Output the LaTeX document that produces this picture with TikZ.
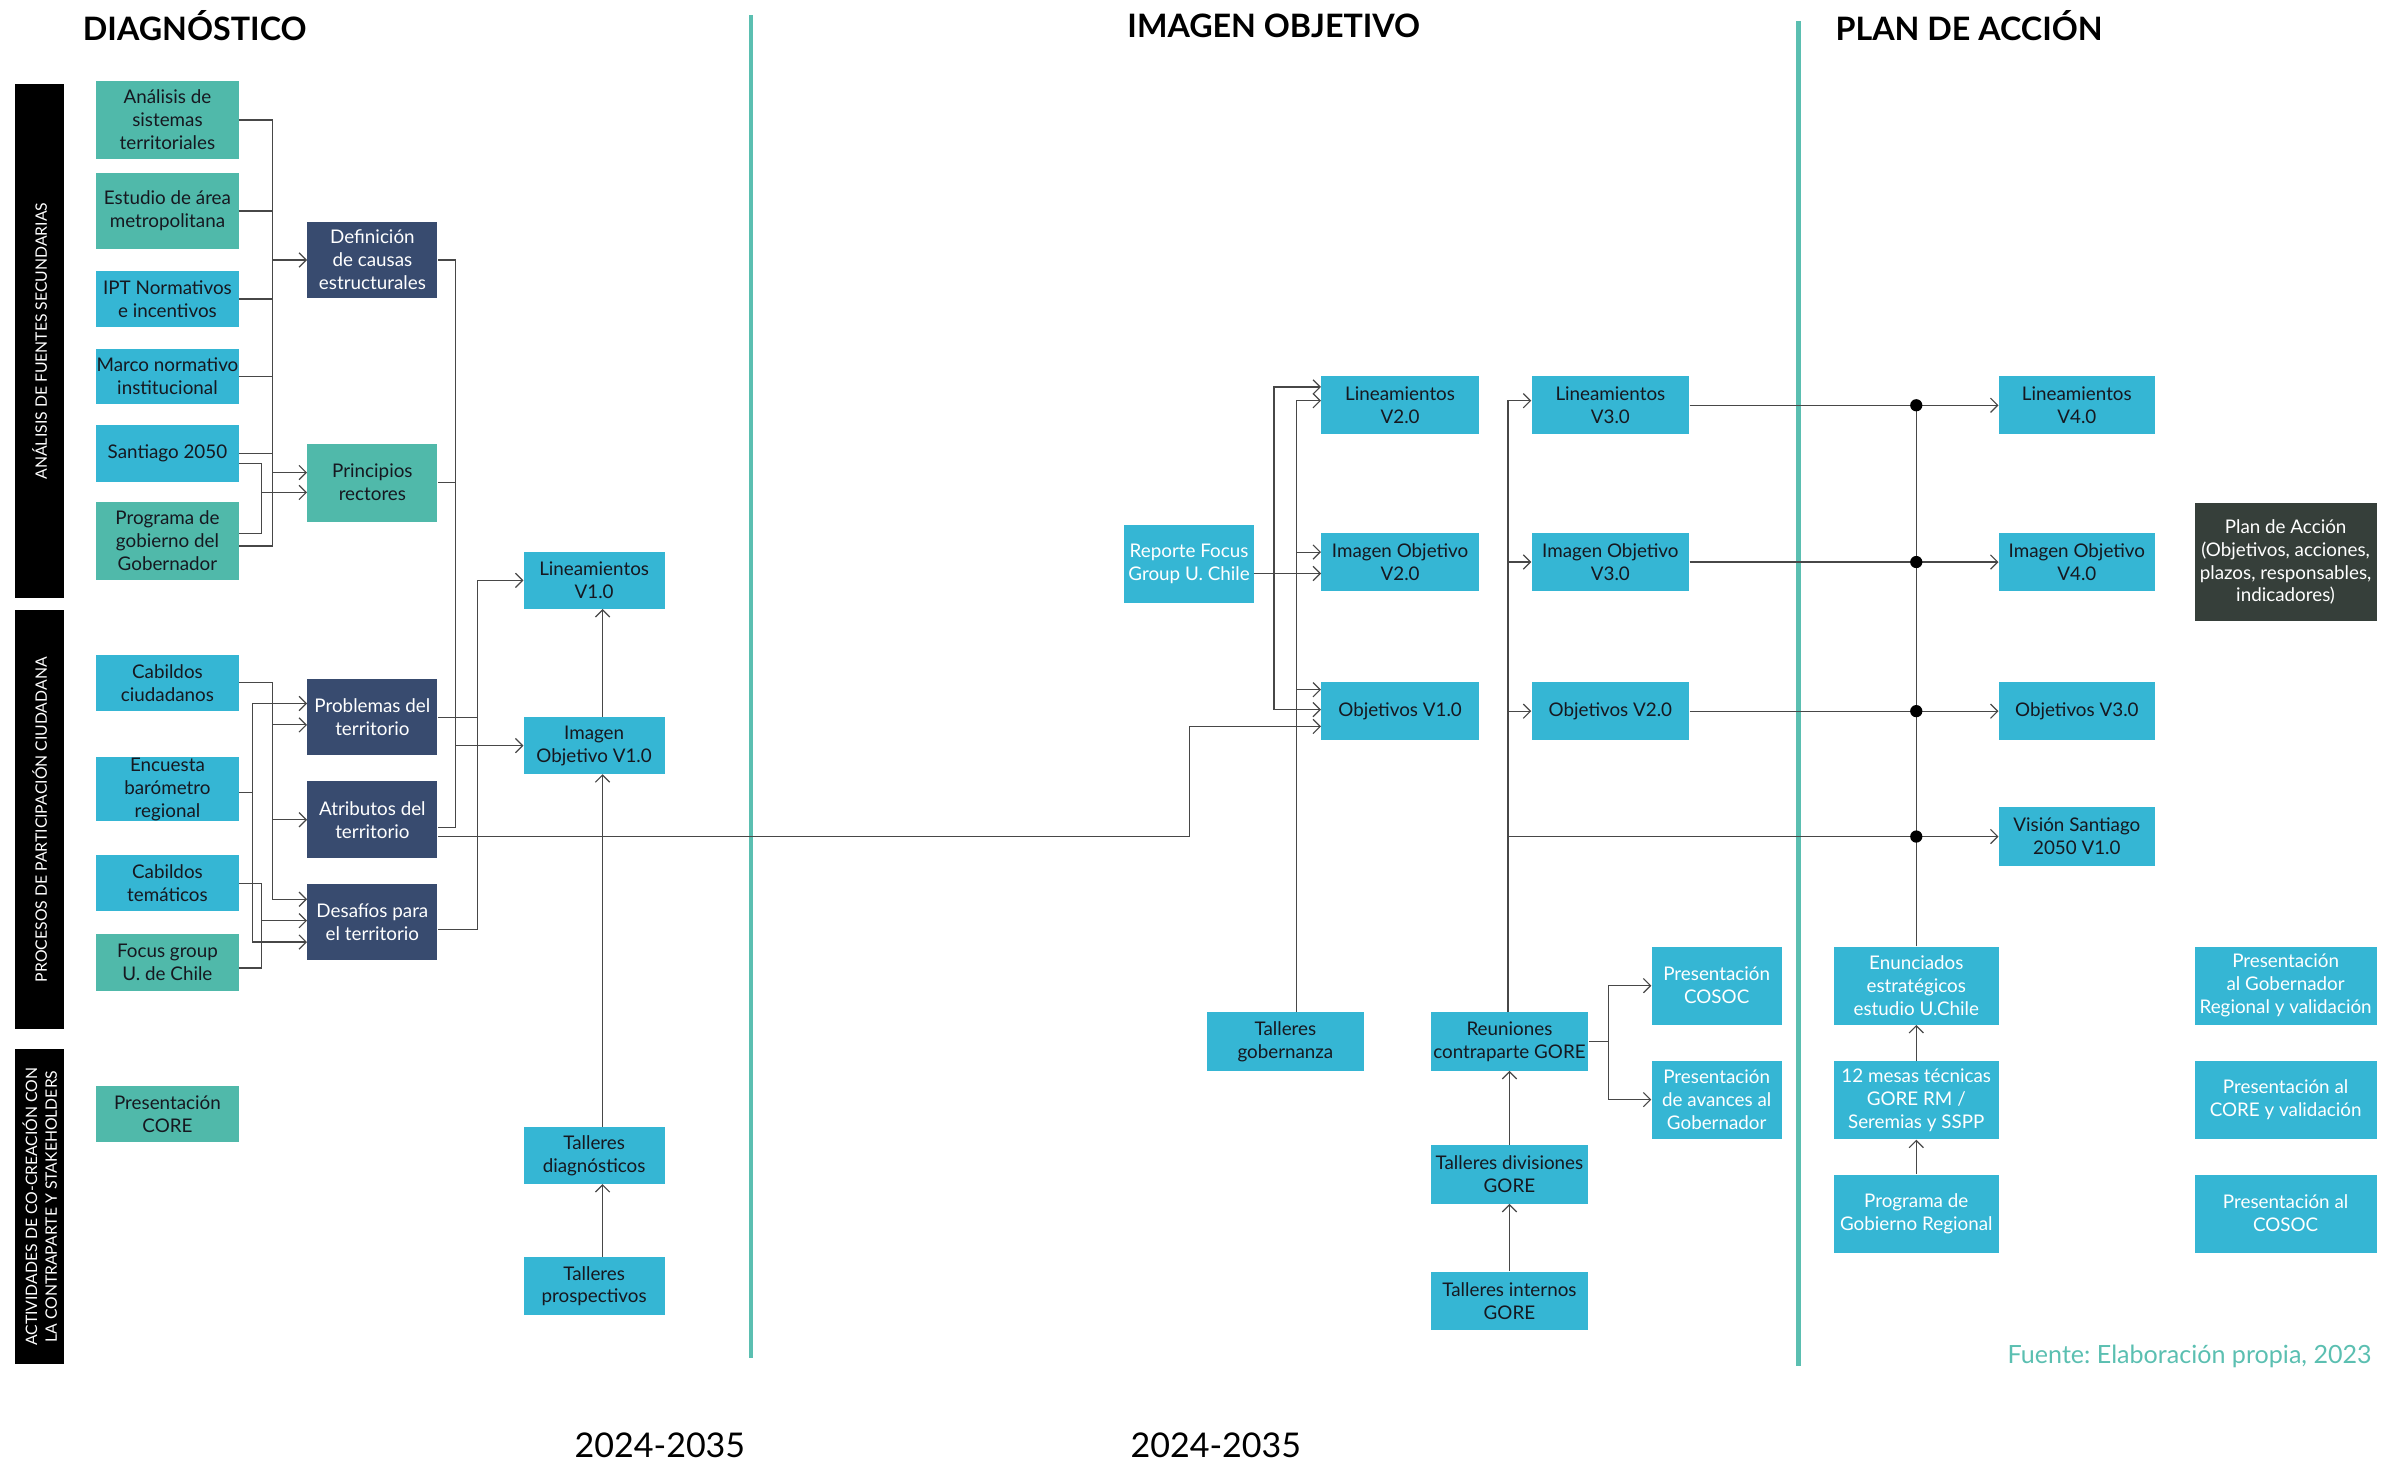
\documentclass[tikz,border=0pt]{standalone}
\usepackage{fontspec}
\setmainfont{Lato}
\usepackage{xcolor}
\definecolor{colorBlue}{RGB}{53,182,212}
\definecolor{colorGreen}{RGB}{80,185,170}
\definecolor{colorNavy}{RGB}{56,75,111}
\definecolor{colorDark}{RGB}{54,63,58}
\definecolor{colorTeal}{RGB}{91,191,177}
\definecolor{colorInk}{RGB}{22,24,32}
\colorlet{colorLine}{black!72}
\usetikzlibrary{arrows.meta}
\tikzset{
  wd/.style={minimum width=#1*0.03cm},
  ht/.style={minimum height=#1*0.03cm},
  box/.style={inner sep=0pt, align=center, text=colorInk},
  bbox/.style={box, fill=colorBlue},
  gbox/.style={box, fill=colorGreen},
  nbox/.style={box, fill=colorNavy, text=white},
  dbox/.style={box, fill=colorDark, text=white},
  wtext/.style={text=white},
  sidebar/.style={fill=black, text=white, inner sep=0pt, align=center, font=\fontsize{8.8}{11}\selectfont},
  head/.style={anchor=west, inner sep=0pt, font=\bfseries\fontsize{18}{21}\selectfont},
  years/.style={inner sep=0pt, font=\fontsize{19}{22}\selectfont},
  divider/.style={draw=colorTeal, line width=2.4pt},
  line/.style={draw=colorLine, line width=0.65pt},
  arr/.style={line, ->},
}

\begin{document}
\begin{tikzpicture}[x=0.03cm, y=-0.03cm, >={Straight Barb[length=4pt,width=8pt]}, font=\fontsize{10.5}{12.8}\selectfont]
\useasboundingbox (0,0) rectangle (1568,956);

% columnas y titulos
\node[head] (hdiag) at (54,17) {DIAGNÓSTICO};
\node[head] (himg) at (737,17) {IMAGEN OBJETIVO};
\node[head] (hplan) at (1200,17) {PLAN DE ACCIÓN};
\draw[divider] (491,10) -- (491,888);
\draw[divider] (1176,14) -- (1176,893);

\node[sidebar, wd=336, ht=32, rotate=90] (sb1) at (26,223) {ANÁLISIS DE FUENTES SECUNDARIAS};
\node[sidebar, wd=274, ht=32, rotate=90] (sb2) at (26,536) {PROCESOS DE PARTICIPACIÓN CIUDADANA};
\node[sidebar, wd=206, ht=32, rotate=90] (sb3) at (26,789) {ACTIVIDADES DE CO-CREACIÓN CON\\LA CONTRAPARTE Y STAKEHOLDERS};

% diagnostico
\node[gbox, wd=93, ht=51] (ana) at (109.5,78.5) {Análisis de\\sistemas\\territoriales};
\node[gbox, wd=93, ht=50] (est) at (109.5,138) {Estudio de área\\metropolitana};
\node[bbox, wd=93, ht=36] (ipt) at (109.5,195.5) {IPT Normativos\\e incentivos};
\node[bbox, wd=93, ht=36] (mar) at (109.5,246) {Marco normativo\\institucional};
\node[bbox, wd=93, ht=37] (stg) at (109.5,296.5) {Santiago 2050};
\node[gbox, wd=93, ht=51] (prg) at (109.5,353.5) {Programa de\\gobierno del\\Gobernador};
\node[bbox, wd=93, ht=37] (cab) at (109.5,446.5) {Cabildos\\ciudadanos};
\node[bbox, wd=93, ht=42] (enc) at (109.5,516) {Encuesta\\barómetro\\regional};
\node[bbox, wd=93, ht=37] (cat) at (109.5,577.5) {Cabildos\\temáticos};
\node[gbox, wd=93, ht=37] (foc) at (109.5,629.5) {Focus group\\U. de Chile};
\node[gbox, wd=93, ht=37] (pco) at (109.5,728.5) {Presentación\\CORE};

\node[nbox, wd=85, ht=50] (def) at (243.5,170) {Definición\\de causas\\estructurales};
\node[gbox, wd=85, ht=51] (pri) at (243.5,315.5) {Principios\\rectores};
\node[nbox, wd=85, ht=50] (pro) at (243.5,469) {Problemas del\\territorio};
\node[nbox, wd=85, ht=50] (atr) at (243.5,536) {Atributos del\\territorio};
\node[nbox, wd=85, ht=50] (des) at (243.5,603) {Desafíos para\\el territorio};

\node[bbox, wd=92, ht=37] (li1) at (388.5,379.5) {Lineamientos\\V1.0};
\node[bbox, wd=92, ht=37] (io1) at (388.5,487.5) {Imagen\\Objetivo V1.0};
\node[bbox, wd=92, ht=37] (tdi) at (388.5,755.5) {Talleres\\diagnósticos};
\node[bbox, wd=92, ht=38] (tpr) at (388.5,841) {Talleres\\prospectivos};

% imagen objetivo
\node[bbox, wtext, wd=85, ht=51] (rep) at (777.5,368.5) {Reporte Focus\\Group U. Chile};
\node[bbox, wd=103, ht=38] (li2) at (915.5,265) {Lineamientos\\V2.0};
\node[bbox, wd=103, ht=38] (io2) at (915.5,367.5) {Imagen Objetivo\\V2.0};
\node[bbox, wd=103, ht=38] (ob1) at (915.5,465) {Objetivos V1.0};
\node[bbox, wd=103, ht=38] (li3) at (1053,265) {Lineamientos\\V3.0};
\node[bbox, wd=103, ht=38] (io3) at (1053,367.5) {Imagen Objetivo\\V3.0};
\node[bbox, wd=103, ht=38] (ob2) at (1053,465) {Objetivos V2.0};
\node[bbox, wd=103, ht=38] (tgo) at (840.5,681) {Talleres\\gobernanza};
\node[bbox, wd=103, ht=38] (reu) at (987,681) {Reuniones\\contraparte GORE};
\node[bbox, wd=103, ht=38] (tdv) at (987,768) {Talleres divisiones\\GORE};
\node[bbox, wd=103, ht=38] (tin) at (987,850.5) {Talleres internos\\GORE};
\node[bbox, wtext, wd=85, ht=51] (pcs) at (1122.5,644.5) {Presentación\\COSOC};
\node[bbox, wtext, wd=85, ht=51] (pav) at (1122.5,719) {Presentación\\de avances al\\Gobernador};

% plan de accion
\node[bbox, wd=102, ht=38] (li4) at (1358,265) {Lineamientos\\V4.0};
\node[bbox, wd=102, ht=38] (io4) at (1358,367.5) {Imagen Objetivo\\V4.0};
\node[bbox, wd=102, ht=38] (ob3) at (1358,465) {Objetivos V3.0};
\node[bbox, wd=102, ht=38] (vis) at (1358,547) {Visión Santiago\\2050 V1.0};
\node[dbox, wd=119, ht=77] (pla) at (1494.5,367.5) {Plan de Acción\\(Objetivos, acciones,\\plazos, responsables,\\indicadores)};
\node[bbox, wtext, wd=108, ht=51] (enu) at (1253,644.5) {Enunciados\\estratégicos\\estudio U.Chile};
\node[bbox, wtext, wd=108, ht=51] (mes) at (1253,719.5) {12 mesas técnicas\\GORE RM /\\Seremias y SSPP};
\node[bbox, wtext, wd=108, ht=51] (pgr) at (1253,793.5) {Programa de\\Gobierno Regional};
\node[bbox, wtext, wd=119, ht=51] (pgo) at (1494.5,644.5) {Presentación\\al Gobernador\\Regional y validación};
\node[bbox, wtext, wd=119, ht=51] (pcr) at (1494.5,719) {Presentación al\\CORE y validación};
\node[bbox, wtext, wd=119, ht=51] (pcc) at (1494.5,793.5) {Presentación al\\COSOC};

\node[years] (yr1) at (431.5,945) {2024-2035};
\node[years] (yr2) at (795,945) {2024-2035};
\node[anchor=east, inner sep=0pt, text=colorTeal, font=\fontsize{14}{16}\selectfont] (src) at (1551,887) {Fuente:\ Elaboración propia, 2023};

% buses
\coordinate (busC) at (165,0);
\coordinate (busB) at (171,0);
\coordinate (busA) at (178,0);
\coordinate (busF) at (298,0);
\coordinate (busE) at (312,0);
\coordinate (busT) at (394,0);
\coordinate (busO) at (778,0);
\coordinate (busR) at (833,0);
\coordinate (busG) at (848,0);
\coordinate (busV) at (986,0);
\coordinate (busP) at (1052,0);
\coordinate (busW) at (1253,0);

% fuentes secundarias
\draw[line] (ana.east) -| (busA |- 0,357) -- (prg.east |- 0,357);
\foreach \n in {est,ipt,mar,stg} \draw[line] (\n.east) -- (busA |- \n.east);
\draw[arr] (busA |- def.west) -- (def.west);
\draw[arr] (busA |- 0,309) -- (pri.west |- 0,309);
\draw[line] (stg.east |- 0,303) -| (busB |- 0,349) -- (prg.east |- 0,349);
\draw[arr] (busB |- 0,322) -- (pri.west |- 0,322);

% participacion
\draw[line] (cab.east) -| (busA |- 0,588);
\draw[arr] (busA |- 0,474) -- (pro.west |- 0,474);
\draw[arr] (busA |- atr.west) -- (atr.west);
\draw[arr] (busA |- 0,588) -- (des.west |- 0,588);
\draw[arr] (enc.east |- 0,518) -| (busC |- 0,460) -- (pro.west |- 0,460);
\draw[arr] (busC |- 0,518) |- (des.west |- 0,616);
\draw[line] (cat.east) -| (busB |- 0,633) -- (foc.east |- 0,633);
\draw[arr] (busB |- 0,602) -- (des.west |- 0,602);

\draw[line] (def.east) -| (busF |- 0,541) -- (atr.east |- 0,541);
\draw[line] (pri.east) -- (busF |- pri.east);
\draw[arr] (busF |- io1.west) -- (io1.west);
\draw[arr] (des.east |- 0,608) -| (busE |- li1.west) -- (li1.west);
\draw[line] (pro.east) -- (busE |- pro.east);
\draw[arr] (busT |- io1.north) -- (busT |- li1.south);
\draw[arr] (busT |- tdi.north) -- (busT |- io1.south);
\draw[arr] (busT |- tpr.north) -- (busT |- tdi.south);
\draw[arr] (atr.east |- 0,547) -| (busO |- 0,475) -- (ob1.west |- 0,475);

% imagen objetivo
\draw[arr] (rep.east |- 0,375) -- (io2.west |- 0,375);
\draw[arr] (busR |- 0,464) |- (li2.west |- 0,253);
\draw[arr] (busR |- 0,464) -- (ob1.west |- 0,464);
\draw[arr] (busG |- tgo.north) |- (li2.west |- 0,262);
\draw[arr] (busG |- 0,361) -- (io2.west |- 0,361);
\draw[arr] (busG |- 0,451) -- (ob1.west |- 0,451);
\draw[arr] (busV |- reu.north) |- (li3.west |- 0,262);
\draw[arr] (busV |- io3.west) -- (io3.west);
\draw[arr] (busV |- ob2.west) -- (ob2.west);
\draw[arr] (busV |- vis.west) -- (vis.west);
\draw[line] (reu.east) -- (busP |- reu.east);
\draw[arr] (busP |- reu.east) |- (pcs.west);
\draw[arr] (busP |- reu.east) |- (pav.west);
\draw[arr] (tdv.north) -- (reu.south);
\draw[arr] (tin.north) -- (tdv.south);

% plan de accion
\draw[arr] (li3.east) -- (li4.west);
\draw[arr] (io3.east) -- (io4.west);
\draw[arr] (ob2.east) -- (ob3.west);
\draw[line] (enu.north) -- (busW |- li4.west);
\foreach \n in {li4,io4,ob3,vis} \fill (busW |- \n.west) circle (0.12cm);
\draw[arr] (pgr.north) -- (mes.south);
\draw[arr] (mes.north) -- (enu.south);
\end{tikzpicture}
\end{document}
